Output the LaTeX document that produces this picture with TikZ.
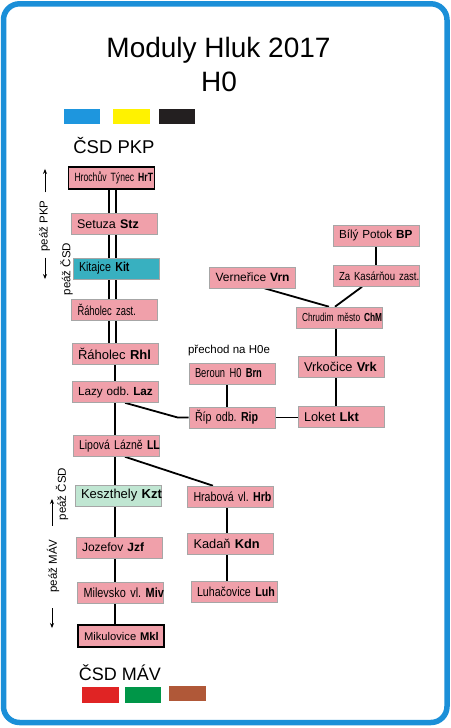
\documentclass[tikz,border=0pt]{standalone}
\usepackage{fontspec}
\setmainfont{Liberation Sans}
\newfontfamily\nrw[FakeStretch=0.82]{Liberation Sans}
\newfontfamily\nrww[FakeStretch=0.72]{Liberation Sans}
\usetikzlibrary{arrows.meta,positioning,backgrounds}

\definecolor{frameblue}{RGB}{27,143,216}
\definecolor{stnpink}{RGB}{240,160,170}
\definecolor{stnteal}{RGB}{56,176,192}
\definecolor{stngreen}{RGB}{192,230,210}
\definecolor{swblue}{RGB}{30,150,222}
\definecolor{swyellow}{RGB}{255,242,0}
\definecolor{swblack}{RGB}{35,31,32}
\definecolor{swred}{RGB}{224,36,36}
\definecolor{swgreen}{RGB}{0,150,72}
\definecolor{swbrown}{RGB}{176,88,56}

\newcommand{\stn}[2]{\mbox{#1 \textbf{#2}}}

\tikzset{
  stn/.style={draw=black!35, line width=0.6pt, fill=stnpink, minimum height=21pt,
    text width=74pt, inner xsep=6pt, inner ysep=0pt, align=left},
  endstn/.style={stn, draw=black, line width=1.8pt},
  nrm/.style={font=\fontsize{#1}{#1}\selectfont},
  nar/.style={font=\nrw\fontsize{#1}{#1}\selectfont},
  narr/.style={font=\nrww\fontsize{#1}{#1}\selectfont},
  track/.style={line width=2.2pt},
  line/.style={line width=1.8pt},
  peaz/.style={rotate=90, inner sep=0pt, outer sep=0pt, font=\fontsize{11.5}{11.5}\selectfont},
  dirarr/.style={line width=0.8pt, -{Stealth[length=5pt,width=4pt]}}
}

\begin{document}
\frenchspacing
\begin{tikzpicture}[x=1pt, y=-1pt]
    \useasboundingbox (0,0) rectangle (450,728);
    \draw[frameblue, line width=5.5pt, rounded corners=16pt] (3.5,3.8) rectangle (447,722.5);

    % nadpis
    \node[nrm=28, anchor=base] (title) at (218.5,57) {Moduly Hluk 2017};
    \node[nrm=28, anchor=base] (scale) at (219,91) {H0};

    % barvy
    \fill[swblue] (64,109) rectangle (100,124);
    \fill[swyellow] (113,109) rectangle (150,124);
    \fill[swblack] (159,109) rectangle (195,124);
    \node[nrm=18.5, anchor=base] (lgtop) at (114,153) {ČSD PKP};
    \node[nrm=18, anchor=base] (lgbot) at (120,680) {ČSD MÁV};
    \fill[swred] (82,687) rectangle (119,703);
    \fill[swgreen] (125,687) rectangle (161,703);
    \fill[swbrown] (169,686) rectangle (206,701);

    % hlavni trat
    \node[endstn, narr=12, minimum height=22pt] (hrt) at (111.5,178) {\stn{Hrochův Týnec}{HrT}};
    \node[stn, nrm=12.5] (stz) at (114,224) {\stn{Setuza}{Stz}};
    \node[stn, nar=13, fill=stnteal] (kit) at (116,268.5) {\stn{Kitajce}{Kit}};
    \node[stn, narr=13] (rhz) at (114.5,309.5) {\mbox{Řáholec zast.}};
    \node[stn, nrm=13] (rhl) at (115,354) {\stn{Řáholec}{Rhl}};
    \node[stn, nrm=11.7] (laz) at (115,392) {\stn{Lazy odb.}{Laz}};
    \node[stn, nar=12.8] (ll) at (116,446) {\stn{Lipová Lázně}{LL}};
    \node[stn, nrm=13, fill=stngreen] (kzt) at (118,495.5) {\stn{Keszthely}{Kzt}};
    \node[stn, nrm=12] (jzf) at (119,547.5) {\stn{Jozefov}{Jzf}};
    \node[stn, nar=13.3] (miv) at (120.5,592.5) {\stn{Milevsko vl.}{Miv}};
    \node[endstn, nrm=11.2, minimum height=22pt] (mkl) at (121,636) {\stn{Mikulovice}{Mkl}};

    % odbocka
    \node[nrm=11.5] (prech) at (229,351) {přechod na H0e};
    \node[stn, narr=13] (brn) at (232,373.5) {\stn{Beroun H0}{Brn}};
    \node[stn, nar=13] (rip) at (232,417.5) {\stn{Říp odb.}{Rip}};
    \node[stn, nrm=12.8] (lkt) at (341,416.5) {\stn{Loket}{Lkt}};
    \node[stn, nrm=12.8] (vrk) at (341,366.5) {\stn{Vrkočice}{Vrk}};
    \node[stn, narr=11.6] (chm) at (339,317.5) {\stn{Chrudim město}{ChM}};
    \node[stn, nrm=12] (vrn) at (252.5,277.5) {\stn{Verneřice}{Vrn}};
    \node[stn, nar=11.7] (zak) at (376,276) {\mbox{Za Kasárňou zast.}};
    \node[stn, nrm=11.7] (bp) at (376,235.5) {\stn{Bílý Potok}{BP}};
    \node[stn, nar=13] (hrb) at (230.5,496.5) {\stn{Hrabová vl.}{Hrb}};
    \node[stn, nrm=12.8] (kdn) at (230.5,543.5) {\stn{Kadaň}{Kdn}};
    \node[stn, nar=13] (luh) at (234,591.5) {\stn{Luhačovice}{Luh}};

    % peaz
    \node[peaz] (pkp) at (44.5,226) {peáž PKP};
    \node[peaz] (csda) at (66.5,269) {peáž ČSD};
    \node[peaz] (mav) at (53,566) {peáž MÁV};
    \node[peaz] (csdb) at (62,494) {peáž ČSD};
    \draw[dirarr] ([xshift=0.5pt, yshift=8pt]pkp.east) -- ++(0,-23.5);
    \draw[dirarr] ([xshift=0.5pt, yshift=-6pt]pkp.west) -- ++(0,21.5);
    \draw[dirarr] ([xshift=-1pt, yshift=13.5pt]mav.east) -- ++(0,-27);
    \draw[dirarr] ([xshift=-1pt, yshift=-15.5pt]mav.west) -- ++(0,20);

    \begin{scope}[on background layer]
        \coordinate (trka) at (109,0);
        \coordinate (trkb) at (116,0);
        \coordinate (trunk) at (115,0);
        \draw[track] (hrt.south -| trka) -- (rhl.north -| trka);
        \draw[track] (hrt.south -| trkb) -- (rhl.north -| trkb);
        \draw[line] (rhl.south -| trunk) -- (mkl.north -| trunk);

        \draw[line] ([xshift=10pt]laz.south) -- ([xshift=-11pt]rip.west) -- (rip.west);
        \draw[line] (rip.east) -- (rip.east -| lkt.west);
        \draw[line] ([xshift=-5pt]brn.south) -- ([xshift=-5pt]rip.north);
        \draw[line] ([xshift=-3pt]chm.south) -- ([xshift=-3pt]chm.south |- lkt.north);
        \draw[line] ([xshift=12pt]vrn.south) -- ([xshift=-10pt]chm.north);
        \draw[line] ([xshift=-14pt]zak.south) -- ([xshift=-4pt]chm.north);
        \draw[line] (bp.south) -- (zak.north);

        \draw[line] ([xshift=9pt]ll.south) -- ([xshift=-17.5pt]hrb.north);
        \draw[line] ([xshift=-3.5pt]hrb.south) -- ([xshift=-3.5pt]kdn.north);
        \draw[line] ([xshift=-3.5pt]kdn.south) -- ([xshift=-3.5pt]kdn.south |- luh.north);
    \end{scope}
\end{tikzpicture}
\end{document}
